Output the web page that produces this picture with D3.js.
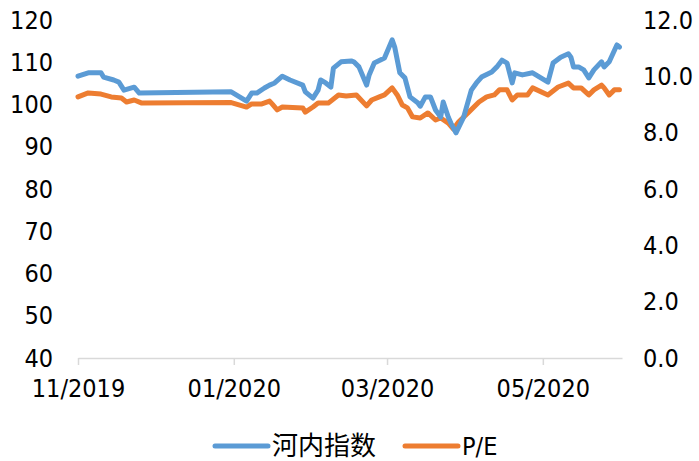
<!DOCTYPE html>
<html>
<head lang="en">
    <meta charset="UTF-8">
    <title></title>
    <style>
        body { margin: 0; background: #fff; }
        text { font-family: "DejaVu Sans Condensed", "DejaVu Sans", sans-serif; font-stretch: condensed; fill: #000; }
    </style>
</head>
<body>
<div id="chart"></div>

<script src="https://cdn.jsdelivr.net/npm/d3@7"></script>
<script>
    // 日付とデータ
    var dates = ["2019-11-01","2019-11-05","2019-11-10","2019-11-11","2019-11-15","2019-11-17","2019-11-19",
        "2019-11-23","2019-11-25","2019-12-31","2020-01-06","2020-01-08","2020-01-10","2020-01-13","2020-01-15",
        "2020-01-17","2020-01-20","2020-01-23","2020-01-28","2020-01-29","2020-02-01","2020-02-03","2020-02-04",
        "2020-02-06","2020-02-08","2020-02-09","2020-02-12","2020-02-16","2020-02-17","2020-02-19","2020-02-22",
        "2020-02-23","2020-02-25","2020-02-29","2020-03-03","2020-03-04","2020-03-06","2020-03-08","2020-03-10",
        "2020-03-13","2020-03-14","2020-03-16","2020-03-18","2020-03-20","2020-03-22","2020-03-23","2020-03-25",
        "2020-03-26","2020-03-28","2020-03-31","2020-04-03","2020-04-05","2020-04-07","2020-04-11","2020-04-13",
        "2020-04-15","2020-04-17","2020-04-19","2020-04-20","2020-04-23","2020-04-27","2020-05-03","2020-05-05",
        "2020-05-08","2020-05-11","2020-05-12","2020-05-13","2020-05-15","2020-05-17","2020-05-19","2020-05-21",
        "2020-05-24","2020-05-25","2020-05-27","2020-05-30","2020-05-31"];
    var indexValues = [106.7,107.5,107.5,106.5,105.8,105.3,103.4,104.1,102.7,103.0,100.8,102.7,102.7,103.9,104.6,
        105.1,106.7,105.8,104.6,103.0,101.5,103.4,105.8,105.1,104.1,108.6,110.1,110.3,110.1,108.9,104.6,
        107.0,109.8,111.0,115.3,113.6,107.5,106.3,101.8,100.4,99.6,101.8,101.8,98.7,97.0,100.6,97.0,
        95.6,93.3,97.0,103.4,105.1,106.5,107.7,108.9,110.5,109.8,105.1,107.5,107.0,107.5,105.3,109.8,
        111.2,112.0,111.2,108.9,108.9,108.2,106.3,108.2,110.1,108.9,110.1,114.1,113.6];

    var peDates = ["2019-11-01","2019-11-05","2019-11-10","2019-11-14","2019-11-18","2019-11-20","2019-11-23",
        "2019-11-26","2019-12-31","2020-01-06","2020-01-08","2020-01-12","2020-01-15","2020-01-16","2020-01-18",
        "2020-01-20","2020-01-28","2020-01-29","2020-02-01","2020-02-03","2020-02-07","2020-02-11","2020-02-14",
        "2020-02-18","2020-02-22","2020-02-24","2020-02-27","2020-02-29","2020-03-03","2020-03-05","2020-03-07",
        "2020-03-09","2020-03-11","2020-03-14","2020-03-17","2020-03-20","2020-03-22","2020-03-25","2020-03-27",
        "2020-03-29","2020-04-02","2020-04-06","2020-04-09","2020-04-12","2020-04-14","2020-04-17","2020-04-19",
        "2020-04-21","2020-04-25","2020-04-27","2020-05-03","2020-05-07","2020-05-11","2020-05-13","2020-05-16",
        "2020-05-19","2020-05-21","2020-05-24","2020-05-25","2020-05-27","2020-05-29","2020-05-31"];
    var peValues = [9.27,9.41,9.37,9.27,9.23,9.09,9.16,9.05,9.07,8.91,9.02,9.02,9.12,9.02,8.81,
        8.91,8.88,8.73,8.91,9.05,9.05,9.34,9.30,9.34,8.95,9.16,9.27,9.34,9.59,9.34,8.98,
        8.88,8.56,8.52,8.70,8.45,8.52,8.34,8.13,8.38,8.73,9.09,9.27,9.34,9.52,9.52,9.16,
        9.34,9.34,9.59,9.34,9.62,9.76,9.59,9.59,9.34,9.52,9.69,9.59,9.34,9.52,9.52];

    var xTicks = ["2019-11-01","2020-01-01","2020-03-01","2020-05-01"];
    var leftTicks = [40,50,60,70,80,90,100,110,120];
    var rightTicks = [0,2,4,6,8,10,12];
    var seriesNames = ["河内指数","P/E"];
    var colors = ["#5B9BD5","#ED7D31"];

    var W = 699, H = 461;
    var mLeft = 78, mRight = 622, mTop = 20, mBottom = 358;
    var parse = d3.timeParse("%Y-%m-%d");

    var svg = d3.select("#chart").append("svg")
        .attr("width", W)
        .attr("height", H);

    var x = d3.scaleTime()
        .domain([parse("2019-11-01"), parse("2020-06-01")])
        .range([mLeft, mRight]);
    var yL = d3.scaleLinear().domain([40, 120]).range([mBottom, mTop]);
    var yR = d3.scaleLinear().domain([0, 12]).range([mBottom, mTop]);

    // X軸
    var xAxis = svg.append("g")
        .attr("transform", "translate(0," + mBottom + ")")
        .call(d3.axisBottom(x)
            .tickValues(xTicks.map(parse))
            .tickFormat(d3.timeFormat("%m/%Y"))
            .tickSizeInner(7)
            .tickSizeOuter(0)
            .tickPadding(14));
    xAxis.select(".domain").attr("stroke", "#D9D9D9").attr("stroke-width", 1.5);
    xAxis.selectAll(".tick line").attr("stroke", "#D9D9D9").attr("stroke-width", 1.5);
    xAxis.selectAll("text").attr("font-size", 25).attr("fill", "#000")
        .attr("font-family", null);

    // 左軸
    var yAxisL = svg.append("g")
        .attr("transform", "translate(" + mLeft + ",0)")
        .call(d3.axisLeft(yL).tickValues(leftTicks).tickSize(0).tickPadding(25));
    yAxisL.select(".domain").remove();
    yAxisL.selectAll("text").attr("font-size", 25).attr("fill", "#000").attr("font-family", null);

    // 右軸
    var yAxisR = svg.append("g")
        .attr("transform", "translate(" + mRight + ",0)")
        .call(d3.axisRight(yR).tickValues(rightTicks).tickSize(0).tickPadding(21)
            .tickFormat(d3.format(".1f")));
    yAxisR.select(".domain").remove();
    yAxisR.selectAll("text").attr("font-size", 25).attr("fill", "#000").attr("font-family", null);

    // 線
    var indexData = dates.map(function(d, i){ return {date: parse(d), v: indexValues[i]}; });
    var peData = peDates.map(function(d, i){ return {date: parse(d), v: peValues[i]}; });

    var lineL = d3.line().x(function(d){ return x(d.date); }).y(function(d){ return yL(d.v); });
    var lineR = d3.line().x(function(d){ return x(d.date); }).y(function(d){ return yR(d.v); });

    svg.append("path").datum(peData)
        .attr("d", lineR)
        .attr("fill", "none")
        .attr("stroke", colors[1])
        .attr("stroke-width", 5)
        .attr("stroke-linejoin", "round")
        .attr("stroke-linecap", "round");

    svg.append("path").datum(indexData)
        .attr("d", lineL)
        .attr("fill", "none")
        .attr("stroke", colors[0])
        .attr("stroke-width", 5)
        .attr("stroke-linejoin", "round")
        .attr("stroke-linecap", "round");

    // 凡例
    var legendItems = [
        {name: seriesNames[0], color: colors[0], x: 215},
        {name: seriesNames[1], color: colors[1], x: 405}
    ];
    var lg = svg.append("g").selectAll("g").data(legendItems).enter().append("g")
        .attr("transform", function(d){ return "translate(" + d.x + ",446)"; });
    lg.append("line")
        .attr("x1", 0).attr("x2", 53)
        .attr("stroke", function(d){ return d.color; })
        .attr("stroke-width", 5)
        .attr("stroke-linecap", "round");
    lg.append("text")
        .attr("x", 57)
        .attr("dy", "0.35em")
        .attr("font-size", function(d, i){ return i === 0 ? 26 : 25; })
        .style("font-family", function(d, i){ return i === 0 ? "'Noto Sans CJK SC', sans-serif" : null; })
        .text(function(d){ return d.name; });
</script>
</body>
</html>
